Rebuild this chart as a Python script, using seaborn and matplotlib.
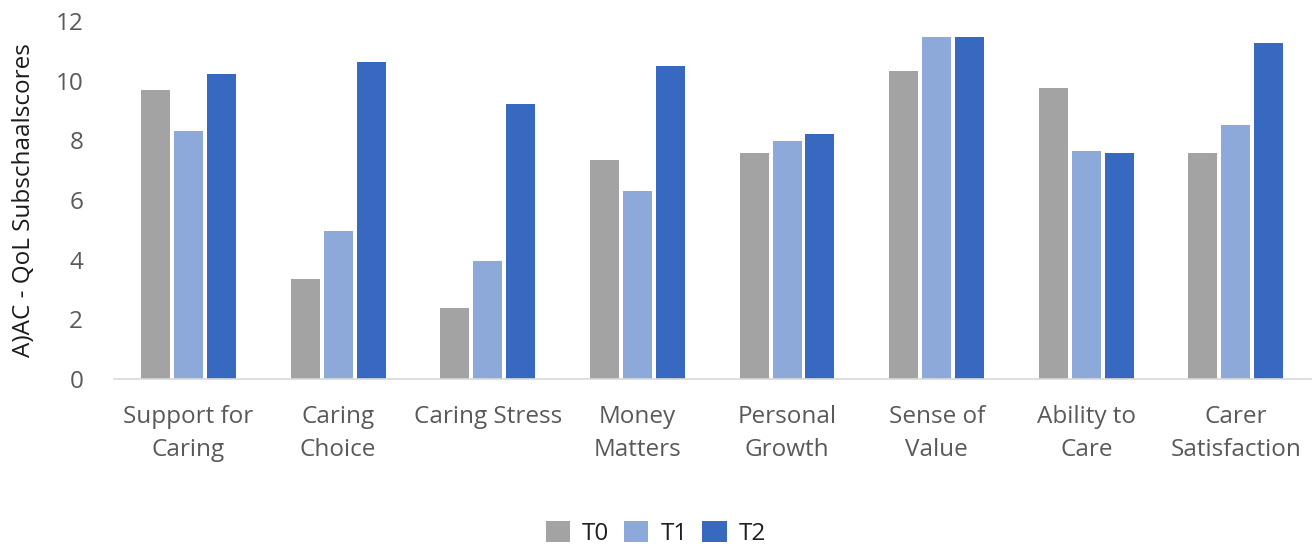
import matplotlib
matplotlib.use("Agg")
import matplotlib.pyplot as plt
from matplotlib.patches import Patch
import seaborn as sns
import pandas as pd

categories = ["Support for\nCaring", "Caring\nChoice", "Caring Stress", "Money\nMatters",
              "Personal\nGrowth", "Sense of\nValue", "Ability to\nCare", "Carer\nSatisfaction"]
t0 = [9.70, 3.35, 2.38, 7.34, 7.56, 10.31, 9.74, 7.58]
t1 = [8.30, 4.97, 3.97, 6.31, 7.99, 11.48, 7.64, 8.50]
t2 = [10.21, 10.62, 9.23, 10.49, 8.22, 11.48, 7.58, 11.25]
series = ["T0", "T1", "T2"]
colors = ["#A3A3A3", "#8DA9DA", "#3769C1"]

rows = []
for name, vals in zip(series, [t0, t1, t2]):
    for c, v in zip(categories, vals):
        rows.append({"Subschaal": c, "Meting": name, "Score": v})
df = pd.DataFrame(rows)

sns.set_theme(style="white")
plt.rcParams["font.family"] = ["Open Sans", "DejaVu Sans"]

fig = plt.figure(figsize=(13.12, 5.44), dpi=100)
ax = fig.add_axes([0.0867, 0.3033, 0.9123, 0.6581])

sns.barplot(data=df, x="Subschaal", y="Score", hue="Meting", order=categories,
            hue_order=series, palette=colors, saturation=1, width=0.66, gap=0.12,
            edgecolor="none", errorbar=None, ax=ax, legend=False)

ax.set_ylim(0, 12)
ax.set_xlim(-0.5, len(categories) - 0.5)
ax.set_yticks(range(0, 13, 2))
ax.set_xlabel("")
ax.set_ylabel("A)AC - QoL Subschaalscores", fontsize=17.5, color="#1a1a1a", labelpad=14)
ax.tick_params(axis="both", length=0, labelsize=17.5, colors="#595959")
ax.tick_params(axis="x", pad=19)
ax.tick_params(axis="y", pad=22)
for lbl in ax.get_xticklabels():
    lbl.set_linespacing(1.5)

for side in ["top", "right", "left"]:
    ax.spines[side].set_visible(False)
ax.spines["bottom"].set_color("#D9D9D9")
ax.spines["bottom"].set_linewidth(1.2)

handles = [Patch(facecolor=c, edgecolor="none", label=s) for s, c in zip(series, colors)]
fig.legend(handles=handles, loc="center", bbox_to_anchor=(0.5, 0.02), ncol=3,
           frameon=False, fontsize=17.5, handlelength=1.0, handleheight=1.0,
           handletextpad=0.5, columnspacing=0.6, labelcolor="#1f1f1f",
           borderaxespad=0, borderpad=0)

fig.savefig("out.png", dpi=100, facecolor="white")
